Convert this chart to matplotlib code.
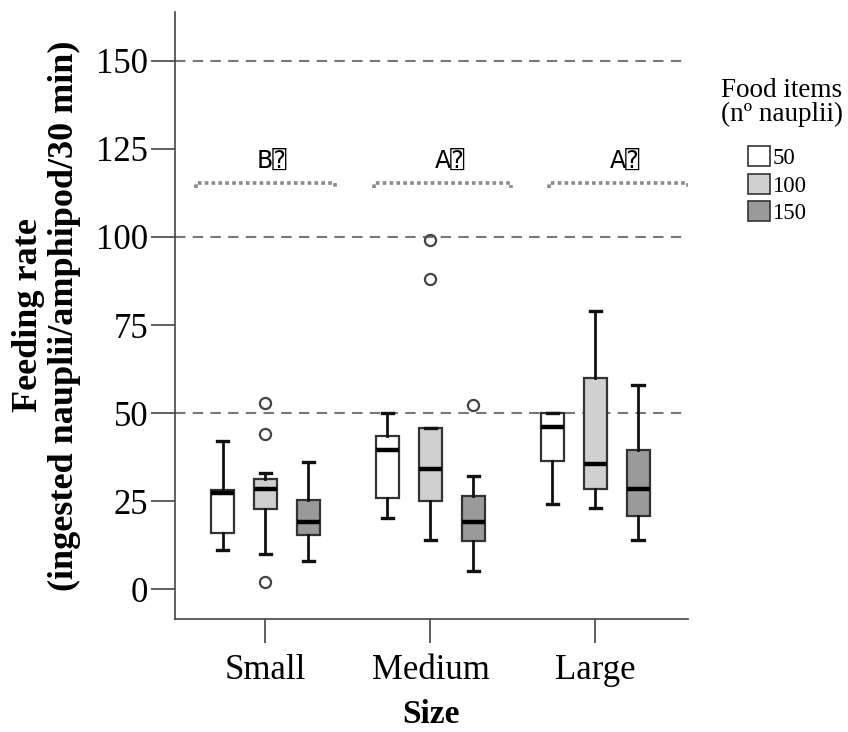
import numpy as np
import matplotlib
matplotlib.use('Agg')
from matplotlib import pyplot as plt
from matplotlib.patches import Patch

# data
sizes = ['Small', 'Medium', 'Large']
food_items = ['50', '100', '150']
box_colors = ['#ffffff', '#d0d0d0', '#9a9a9a']

# per size group: [50, 100, 150]
whislo = [[11.1, 9.9, 8.0], [20.1, 14.1, 5.2], [24.1, 23.1, 14.1]]
q1     = [[16.0, 22.7, 15.5], [25.8, 25.1, 13.6], [36.4, 28.5, 20.9]]
med    = [[27.2, 28.6, 19.0], [39.5, 34.0, 19.0], [46.1, 35.6, 28.4]]
q3     = [[28.1, 31.2, 25.3], [43.5, 45.9, 26.4], [50.1, 60.1, 39.5]]
whishi = [[42.0, 33.1, 36.2], [50.1, 45.9, 32.1], [50.1, 79.1, 58.0]]
fliers = [[[], [53.0, 44.2, 2.1], []], [[], [99.1, 88.1], [52.3]], [[], [], []]]

# letters above groups, bracket span (x in group units) and heights
group_letters = ['B\u2370', 'A\u2370', 'A\u2370']
bracket_left = [0.58, 1.66, 2.72]
bracket_right = [1.42, 2.49, 3.56]
letter_x = [1.04, 2.12, 3.18]
bracket_y = 115.3
letter_y = 121.5

ref_lines = [50, 100, 150]
yticks = [0, 25, 50, 75, 100, 125, 150]

plt.rcParams['font.family'] = ['Liberation Serif', 'DejaVu Serif']

fig = plt.figure(figsize=(8.48, 7.32), dpi=100)
ax = fig.add_axes([0.206, 0.154, 0.605, 0.830])

offset = 0.26
width = 0.14
for g in range(len(sizes)):
    for k in range(len(food_items)):
        st = dict(med=med[g][k], q1=q1[g][k], q3=q3[g][k],
                  whislo=whislo[g][k], whishi=whishi[g][k], fliers=fliers[g][k])
        ax.bxp([st], positions=[g + 1 + (k - 1) * offset], widths=width,
               capwidths=width * 0.5, showfliers=True, patch_artist=True,
               boxprops=dict(facecolor=box_colors[k], edgecolor='#333333', linewidth=1.6),
               medianprops=dict(color='black', linewidth=3.2),
               whiskerprops=dict(color='#111111', linewidth=2.0),
               capprops=dict(color='#111111', linewidth=2.4),
               flierprops=dict(marker='o', markerfacecolor='none', markeredgecolor='#444444',
                               markersize=8, markeredgewidth=1.6),
               manage_ticks=False, zorder=3)

for yv in ref_lines:
    ax.axhline(yv, color='#777777', linewidth=1.5, dashes=(5, 3.5), zorder=1)

for i in range(len(sizes)):
    x0, x1 = bracket_left[i], bracket_right[i]
    ax.plot([x0, x0, x1, x1], [bracket_y - 1.3, bracket_y, bracket_y, bracket_y - 1.3],
            color='#8a8a8a', linewidth=2.6, dashes=(1.0, 0.9), solid_capstyle='butt')
    ax.text(letter_x[i], letter_y, group_letters[i], ha='center', va='center',
            fontsize=17, family=['DejaVu Sans', 'DejaVu Sans Mono'])

ax.set_xlim(0.45, 3.56)
ax.set_ylim(-8.5, 163.9)
ax.set_xticks([1, 2, 3])
ax.set_xticklabels(sizes)
ax.set_yticks(yticks)
ax.tick_params(axis='both', labelsize=25, length=17, width=1.2, color='#444444',
               direction='out', pad=2)
ax.tick_params(axis='x', pad=8)
for s in ['top', 'right']:
    ax.spines[s].set_visible(False)
for s in ['left', 'bottom']:
    ax.spines[s].set_color('#444444')
    ax.spines[s].set_linewidth(1.2)

ax.set_xlabel('Size', fontsize=24, fontweight='bold', labelpad=9)
ax.set_ylabel('Feeding rate\n(ingested nauplii/amphipod/30 min)', fontsize=26,
              fontweight='bold', linespacing=1.1, labelpad=11)

# legend: title placed on its own, entries below
fig.text(0.922, 0.894, 'Food items\n(n\u00ba nauplii)', ha='center', va='top',
         multialignment='center', fontsize=19.5, linespacing=0.98)
handles = [Patch(facecolor=c, edgecolor='#333333', linewidth=1.2) for c in box_colors]
leg = fig.legend(handles, food_items, loc='upper left', bbox_to_anchor=(0.882, 0.800),
                 frameon=False, fontsize=16.5, handlelength=0.95, handleheight=0.95,
                 labelspacing=0.2, handletextpad=0.12, borderaxespad=0, borderpad=0)

fig.savefig('out.png', dpi=100)
